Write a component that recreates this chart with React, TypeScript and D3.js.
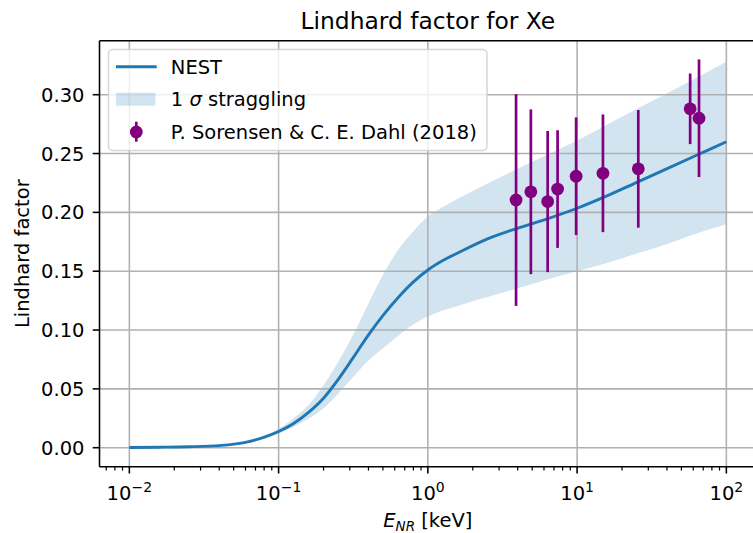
import React from "react";
import * as d3 from "d3";

// ---- data ----
const nestE = [0.01, 0.0158, 0.0251, 0.0398, 0.0631, 0.0794, 0.1, 0.126, 0.158, 0.2, 0.251, 0.316, 0.398, 0.501, 0.631, 0.794, 1, 1.259, 1.585, 2.512, 3.981, 6.31, 10, 15.85, 25.12, 39.81, 63.1, 100];
const nestL = [0.0002, 0.0004, 0.0008, 0.0018, 0.0052, 0.0088, 0.0138, 0.0206, 0.0298, 0.042, 0.058, 0.0765, 0.0955, 0.1125, 0.1275, 0.1405, 0.151, 0.159, 0.1655, 0.1775, 0.1865, 0.1945, 0.2035, 0.214, 0.2255, 0.237, 0.2485, 0.26];
const bandLow = [0.0002, 0.0003, 0.0007, 0.0015, 0.0043, 0.0076, 0.012, 0.0175, 0.0245, 0.0335, 0.046, 0.06, 0.074, 0.0845, 0.095, 0.1045, 0.1115, 0.1165, 0.1205, 0.128, 0.1355, 0.143, 0.15, 0.157, 0.165, 0.173, 0.182, 0.19];
const bandHigh = [0.0002, 0.0005, 0.0009, 0.0021, 0.006, 0.0098, 0.016, 0.025, 0.036, 0.053, 0.073, 0.096, 0.122, 0.147, 0.168, 0.1835, 0.1965, 0.2045, 0.2115, 0.2245, 0.237, 0.249, 0.261, 0.2745, 0.288, 0.301, 0.3145, 0.328];

const sorensenE = [3.9, 4.9, 6.35, 7.4, 9.85, 14.9, 25.7, 57.2, 65.6];
const sorensenL = [0.2105, 0.2175, 0.2092, 0.2198, 0.2307, 0.2332, 0.237, 0.288, 0.28];
const sorensenErr = [0.09, 0.07, 0.06, 0.05, 0.05, 0.05, 0.05, 0.03, 0.05];

const xTickExp = [-2, -1, 0, 1, 2];
const yTicks = [0, 0.05, 0.1, 0.15, 0.2, 0.25, 0.3];

const titleText = "Lindhard factor for Xe";
const yLabelText = "Lindhard factor";
const legendLabels = ["NEST", "straggling", "P. Sorensen & C. E. Dahl (2018)"];

const W = 753;
const H = 533;
const FONT = "DejaVu Sans, sans-serif";
const FS = 19.5;
const BLUE = "#1f77b4";
const PURPLE = "#800080";

export default function App() {
  const x = d3.scaleLog().domain([Math.pow(10, -2.2), Math.pow(10, 2.2)]).range([99.5, 756.2]);
  const y = d3.scaleLinear().domain([-0.01615, 0.3459]).range([466.7, 40.7]);
  const left = 99.5, right = 756.2, top = 40.7, bottom = 466.7;

  const idx = nestE.map((_, i) => i);
  const area = d3
    .area<number>()
    .x((i) => x(nestE[i]))
    .y0((i) => y(bandLow[i]))
    .y1((i) => y(bandHigh[i]))
    .curve(d3.curveMonotoneX);
  const line = d3
    .line<number>()
    .x((i) => x(nestE[i]))
    .y((i) => y(nestL[i]))
    .curve(d3.curveMonotoneX);

  const [d0, d1] = x.domain();
  const minorTicks: number[] = [];
  for (let e = -3; e <= 2; e++) {
    for (let m = 2; m <= 9; m++) {
      const v = m * Math.pow(10, e);
      if (v >= d0 && v <= d1) minorTicks.push(v);
    }
  }
  const majorTicks = xTickExp.map((e) => Math.pow(10, e));

  const gridColor = "#b0b0b0";
  const lw = 1.56;

  return (
    <svg
      width={W}
      height={H}
      style={{ position: "absolute", left: 0, top: 0, display: "block", background: "#fff" }}
      fontFamily={FONT}
    >
      <rect x={0} y={0} width={W} height={H} fill="#fff" />
      <defs>
        <clipPath id="plotclip">
          <rect x={left} y={top} width={right - left} height={bottom - top} />
        </clipPath>
      </defs>

      {/* band */}
      <path d={area(idx) || ""} fill={BLUE} fillOpacity={0.2} clipPath="url(#plotclip)" />

      {/* grid */}
      {majorTicks.map((t, i) => (
        <line key={"gx" + i} x1={x(t)} x2={x(t)} y1={top} y2={bottom} stroke={gridColor} strokeWidth={lw} />
      ))}
      {yTicks.map((t, i) => (
        <line key={"gy" + i} x1={left} x2={right} y1={y(t)} y2={y(t)} stroke={gridColor} strokeWidth={lw} />
      ))}

      {/* NEST line */}
      <path d={line(idx) || ""} fill="none" stroke={BLUE} strokeWidth={2.9} clipPath="url(#plotclip)" />

      {/* error bars */}
      {sorensenE.map((e, i) => (
        <line
          key={"eb" + i}
          x1={x(e)}
          x2={x(e)}
          y1={y(sorensenL[i] - sorensenErr[i])}
          y2={y(sorensenL[i] + sorensenErr[i])}
          stroke={PURPLE}
          strokeWidth={2.7}
        />
      ))}
      {sorensenE.map((e, i) => (
        <circle key={"pt" + i} cx={x(e)} cy={y(sorensenL[i])} r={6.4} fill={PURPLE} />
      ))}

      {/* spines */}
      <line x1={left} x2={left} y1={top} y2={bottom} stroke="#000" strokeWidth={lw} />
      <line x1={left} x2={right} y1={bottom} y2={bottom} stroke="#000" strokeWidth={lw} />
      <line x1={left} x2={right} y1={top} y2={top} stroke="#000" strokeWidth={lw} />
      <line x1={right} x2={right} y1={top} y2={bottom} stroke="#000" strokeWidth={lw} />

      {/* x ticks */}
      {majorTicks.map((t, i) => (
        <line key={"xt" + i} x1={x(t)} x2={x(t)} y1={bottom} y2={bottom + 6.8} stroke="#000" strokeWidth={lw} />
      ))}
      {minorTicks.map((t, i) => (
        <line key={"xm" + i} x1={x(t)} x2={x(t)} y1={bottom} y2={bottom + 3.9} stroke="#000" strokeWidth={1.2} />
      ))}
      {xTickExp.map((e, i) => (
        <text key={"xl" + i} x={x(Math.pow(10, e))} y={499.5} fontSize={FS} textAnchor="middle" fill="#000">
          10
          <tspan dy={-7.5} fontSize={14}>
            {e < 0 ? "\u2212" + Math.abs(e) : String(e)}
          </tspan>
        </text>
      ))}

      {/* y ticks */}
      {yTicks.map((t, i) => (
        <g key={"yt" + i}>
          <line x1={left - 6.8} x2={left} y1={y(t)} y2={y(t)} stroke="#000" strokeWidth={lw} />
          <text x={84.5} y={y(t) + 7} fontSize={FS} textAnchor="end" fill="#000">
            {t.toFixed(2)}
          </text>
        </g>
      ))}

      {/* labels */}
      <text x={(left + right) / 2} y={29} fontSize={23.4} textAnchor="middle" fill="#000">
        {titleText}
      </text>
      <text
        transform={`translate(28.5, ${(top + bottom) / 2}) rotate(-90)`}
        fontSize={FS}
        textAnchor="middle"
        fill="#000"
      >
        {yLabelText}
      </text>
      <text x={(left + right) / 2} y={526.8} fontSize={FS} textAnchor="middle" fill="#000">
        <tspan fontStyle="italic">E</tspan>
        <tspan fontStyle="italic" fontSize={13.5} dy={3.8}>
          NR
        </tspan>
        <tspan dy={-3.8}> [keV]</tspan>
      </text>

      {/* legend */}
      <g>
        <rect
          x={108.5}
          y={49.5}
          width={378.5}
          height={101}
          rx={4}
          fill="#fff"
          fillOpacity={0.8}
          stroke="#cccccc"
          strokeOpacity={0.8}
          strokeWidth={1.5}
        />
        <line x1={116} x2={156.7} y1={66.7} y2={66.7} stroke={BLUE} strokeWidth={2.9} />
        <text x={170.8} y={73.8} fontSize={FS} fill="#000">
          {legendLabels[0]}
        </text>
        <rect x={116} y={92.7} width={39.5} height={13} fill={BLUE} fillOpacity={0.2} />
        <text x={170.8} y={106} fontSize={FS} fill="#000">
          1 <tspan fontStyle="italic">σ</tspan> {legendLabels[1]}
        </text>
        <line x1={136.3} x2={136.3} y1={121.7} y2={141.7} stroke={PURPLE} strokeWidth={2.7} />
        <circle cx={136.3} cy={132} r={6.4} fill={PURPLE} />
        <text x={170.8} y={138.5} fontSize={FS} fill="#000">
          {legendLabels[2]}
        </text>
      </g>
    </svg>
  );
}
